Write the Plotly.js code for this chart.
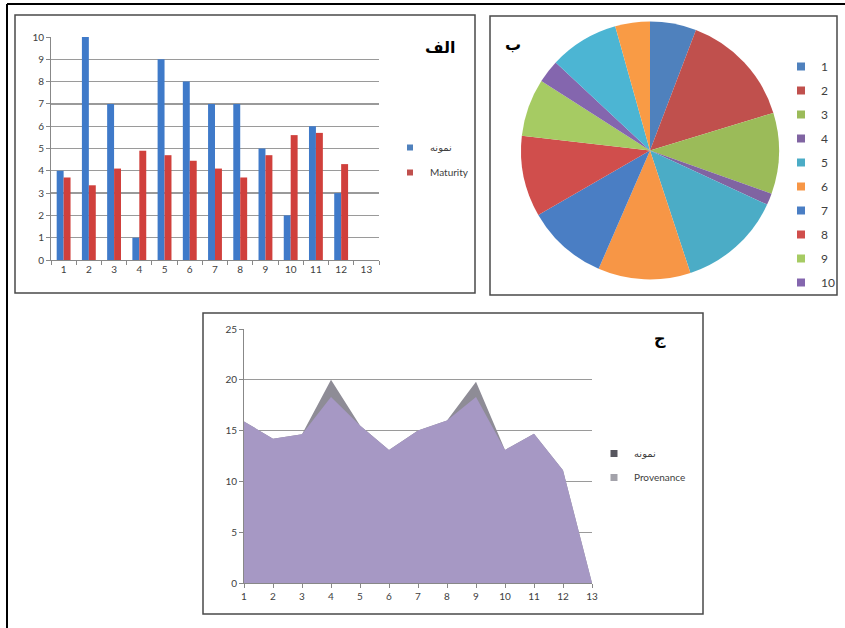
<!DOCTYPE html>
<html>
<head>
<meta charset="utf-8">
<script src="https://cdn.plot.ly/plotly-3.0.1.min.js"></script>
<style>html,body{margin:0;padding:0;background:#fff;}#chart{width:845px;height:628px;}</style>
</head>
<body>
<div id="chart"></div>
<script>
// ---- data ----
const categories = ['1','2','3','4','5','6','7','8','9','10','11','12'];
const axisCategories = ['1','2','3','4','5','6','7','8','9','10','11','12','13'];
const sampleCounts = [4, 10, 7, 1, 9, 8, 7, 7, 5, 2, 6, 3];
const maturity = [3.7, 3.35, 4.1, 4.9, 4.7, 4.45, 4.1, 3.7, 4.7, 5.6, 5.7, 4.3];
const seriesNames = ['نمونه', 'Maturity'];
const barColors = ['#3F7AC9', '#D0403C'];
const barLegendColors = ['#4F81BD', '#C0504D'];

const pieLabels = categories;
const pieValues = sampleCounts;
const pieLegendLabels = ['1','2','3','4','5','6','7','8','9','10'];
const pieColors = ['#4F81BD','#C0504D','#9BBB59','#8064A2','#4BACC6','#F79646',
                   '#4A7EC4','#D04E4C','#A6CB63','#8466AE','#4CB5D3','#F99B45'];

const areaX = [1,2,3,4,5,6,7,8,9,10,11,12,13];
const sampleArea = [15.9, 14.2, 14.65, 20, 15.5, 13.1, 15, 16, 19.8, 13.1, 14.7, 11.1, 0];
const provenance = [15.9, 14.2, 14.65, 18.3, 15.5, 13.1, 15, 16, 18.3, 13.1, 14.7, 11.1, 0];
const areaLegendLabels = ['نمونه', 'Provenance'];
const areaLegendColors = ['#58575F', '#A3A2AA'];

const titles = ['الف', 'ب', 'ج'];

// ---- helpers (pixel -> paper) ----
const W = 845, H = 628;
const px = v => v / W;
const py = v => 1 - v / H;

const FONT = 'Lato, "DejaVu Sans", sans-serif';
const tickFont = {family: FONT, size: 10, color: '#404040'};

const traces = [];
[sampleCounts, maturity].forEach((vals, i) => {
  traces.push({
    type: 'bar', x: categories, y: vals, name: seriesNames[i],
    marker: {color: barColors[i], line: {width: 0}},
    xaxis: 'x', yaxis: 'y', showlegend: false
  });
  traces.push({
    type: 'scatter', mode: 'markers', x: [null], y: [null], name: seriesNames[i],
    marker: {symbol: 'square', size: 6, color: barLegendColors[i]},
    xaxis: 'x', yaxis: 'y', legend: 'legend', legendgroup: 'b' + i
  });
});

traces.push({
  type: 'pie', labels: pieLabels, values: pieValues, sort: false,
  direction: 'clockwise', rotation: 0, textinfo: 'none', hoverinfo: 'label+value',
  marker: {colors: pieColors, line: {width: 0}},
  domain: {x: [px(650 - 129), px(650 + 129)], y: [py(280), py(21)]},
  showlegend: false
});
pieLegendLabels.forEach((lab, i) => {
  traces.push({
    type: 'scatter', mode: 'markers', x: [null], y: [null], name: lab,
    marker: {symbol: 'square', size: 8, color: pieColors[i]},
    xaxis: 'x', yaxis: 'y', legend: 'legend3', legendgroup: 'p' + i
  });
});

traces.push({
  type: 'scatter', mode: 'lines', x: areaX, y: sampleArea, name: areaLegendLabels[0],
  fill: 'tozeroy', fillcolor: '#8E8C96', line: {width: 0, color: '#8E8C96'},
  xaxis: 'x2', yaxis: 'y2', showlegend: false
});
traces.push({
  type: 'scatter', mode: 'lines', x: areaX, y: provenance, name: areaLegendLabels[1],
  fill: 'tozeroy', fillcolor: '#A698C4', line: {width: 0, color: '#A698C4'},
  xaxis: 'x2', yaxis: 'y2', showlegend: false
});
areaLegendLabels.forEach((lab, i) => {
  traces.push({
    type: 'scatter', mode: 'markers', x: [null], y: [null], name: lab,
    marker: {symbol: 'square', size: 7, color: areaLegendColors[i]},
    xaxis: 'x2', yaxis: 'y2', legend: 'legend2', legendgroup: 'a' + i
  });
});

const frame = (x0, y0, x1, y1, color, w) => ({
  type: 'rect', xref: 'paper', yref: 'paper',
  x0: px(x0), x1: px(x1), y0: py(y1), y1: py(y0),
  line: {color: color, width: w}, fillcolor: 'rgba(0,0,0,0)', layer: 'below'
});
const line = (x0, y0, x1, y1, color, w) => ({
  type: 'line', xref: 'paper', yref: 'paper',
  x0: px(x0), x1: px(x1), y0: py(y0), y1: py(y1),
  line: {color: color, width: w}
});

const legendBase = {
  bgcolor: 'rgba(0,0,0,0)', borderwidth: 0, xanchor: 'left', yanchor: 'top',
  traceorder: 'grouped', itemclick: false, itemdoubleclick: false
};

const titleFont = {family: '"DejaVu Sans", sans-serif', size: 16, color: '#000'};

const layout = {
  width: W, height: H,
  margin: {l: 0, r: 0, t: 0, b: 0},
  paper_bgcolor: '#fff', plot_bgcolor: 'rgba(0,0,0,0)',
  font: {family: FONT, color: '#404040'},
  barmode: 'group', bargap: 0.45, bargroupgap: 0,
  showlegend: true,
  xaxis: {
    domain: [px(51), px(379)], anchor: 'y', type: 'category',
    categoryorder: 'array', categoryarray: axisCategories, range: [-0.5, 12.5],
    tickson: 'boundaries', ticks: 'outside', ticklen: 4, tickcolor: '#888',
    showline: true, linecolor: '#888', linewidth: 1, showgrid: false,
    tickfont: tickFont, fixedrange: true
  },
  yaxis: {
    domain: [py(260), py(37)], anchor: 'x', range: [0, 10], dtick: 1,
    showgrid: true, gridcolor: '#9a9a9a', gridwidth: 1.3,
    showline: true, linecolor: '#888', ticks: 'outside', ticklen: 4, tickcolor: '#888',
    tickfont: tickFont, zeroline: false, fixedrange: true
  },
  xaxis2: {
    domain: [px(244), px(592)], anchor: 'y2', range: [1, 13], dtick: 1, tick0: 1,
    ticks: 'outside', ticklen: 4, tickcolor: '#888',
    showline: true, linecolor: '#888', showgrid: false, zeroline: false,
    tickfont: tickFont, fixedrange: true
  },
  yaxis2: {
    domain: [py(583), py(329)], anchor: 'x2', range: [0, 25], dtick: 5,
    showgrid: true, gridcolor: '#9a9a9a', gridwidth: 1.3,
    showline: true, linecolor: '#888', ticks: 'outside', ticklen: 4, tickcolor: '#888',
    tickfont: tickFont, zeroline: false, fixedrange: true
  },
  legend: Object.assign({}, legendBase, {
    x: px(390), y: py(133), tracegroupgap: 6,
    font: {family: FONT, size: 10, color: '#404040'}
  }),
  legend2: Object.assign({}, legendBase, {
    x: px(594), y: py(439), tracegroupgap: 5,
    font: {family: FONT, size: 10, color: '#404040'}
  }),
  legend3: Object.assign({}, legendBase, {
    x: px(781), y: py(52), tracegroupgap: 5,
    font: {family: FONT, size: 12, color: '#404040'}
  }),
  annotations: [
    {text: '<b>' + titles[0] + '</b>', xref: 'paper', yref: 'paper', x: px(441), y: py(36),
     showarrow: false, font: titleFont},
    {text: '<b>' + titles[1] + '</b>', xref: 'paper', yref: 'paper', x: px(513), y: py(33),
     showarrow: false, font: titleFont},
    {text: '<b>' + titles[2] + '</b>', xref: 'paper', yref: 'paper', x: px(668), y: py(338),
     showarrow: false, font: titleFont}
  ],
  shapes: [
    line(7, 4, 845, 4, '#000', 2),
    line(7, 4, 7, 628, '#000', 2),
    frame(15, 15, 475, 293, '#4a4a4a', 1.5),
    frame(490, 16, 837, 295, '#4a4a4a', 1.5),
    frame(203, 313, 703, 614, '#4a4a4a', 1.5)
  ]
};

Plotly.newPlot('chart', traces, layout, {displayModeBar: false, staticPlot: true});
</script>
</body>
</html>
